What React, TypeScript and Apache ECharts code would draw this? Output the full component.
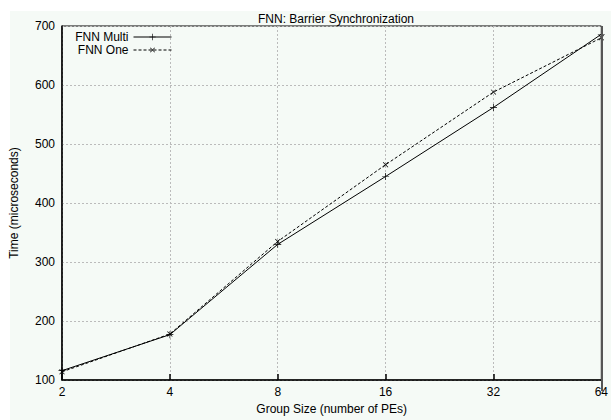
import React, { useEffect, useRef } from "react";
import * as echarts from "echarts";

const categories = ["2", "4", "8", "16", "32", "64"];
const fnnMulti = [116, 177, 330, 445, 562, 686];
const fnnOne = [114, 178, 335, 465, 588, 680];
const yTicks = { min: 100, max: 700, interval: 100 };

const PLUS = "path://M4.5,0H5.5V4.5H10V5.5H5.5V10H4.5V5.5H0V4.5H4.5Z";
const FONT = "Liberation Sans, Arial, sans-serif";

export default function App() {
  const ref = useRef<HTMLDivElement>(null);
  useEffect(() => {
    const chart = echarts.init(ref.current!, null, { renderer: "svg" });
    const legendBase = {
      orient: "vertical",
      align: "right",
      right: 611 - 172,
      itemWidth: 38,
      itemHeight: 8,
      itemGap: 4,
      textStyle: { fontFamily: FONT, fontSize: 12, color: "#000", padding: [0, 0, 0, 0] },
      padding: 0,
    };
    chart.setOption({
      animation: false,
      backgroundColor: "#ffffff",
      graphic: [
        {
          type: "rect",
          z: -10,
          silent: true,
          shape: { x: 10, y: 11, width: 601, height: 409 },
          style: { fill: "#f5faf6" },
        },
        {
          type: "line",
          z: 10,
          silent: true,
          shape: { x1: 602, y1: 26, x2: 602, y2: 391 },
          style: { stroke: "#555", lineWidth: 2 },
        },
      ],
      title: {
        text: "FNN: Barrier Synchronization",
        left: 331,
        textAlign: "center",
        top: 8,
        textStyle: { fontFamily: FONT, fontSize: 12, fontWeight: "normal", color: "#000" },
      },
      legend: [
        {
          ...legendBase,
          top: 31,
          data: [{ name: "FNN Multi", itemStyle: { color: "#000" }, lineStyle: { width: 1, type: "solid" } }],
        },
        {
          ...legendBase,
          top: 44,
          data: [{ name: "FNN One", itemStyle: { color: "#000" }, lineStyle: { width: 1, type: [3, 2] } }],
        },
      ],
      grid: {
        left: 61,
        right: 9,
        top: 26,
        bottom: 29,
        show: true,
        borderColor: "#000",
        borderWidth: 1,
        backgroundColor: "transparent",
      },
      xAxis: {
        type: "category",
        data: categories,
        boundaryGap: false,
        name: "Group Size (number of PEs)",
        nameLocation: "middle",
        nameGap: 20,
        nameTextStyle: { fontFamily: FONT, fontSize: 12, color: "#000" },
        axisLine: { lineStyle: { color: "#000", width: 1.5 } },
        axisTick: { inside: true, length: 6, lineStyle: { color: "#000", width: 1.5 } },
        axisLabel: { fontFamily: FONT, fontSize: 12, color: "#000", margin: 6 },
        splitLine: { show: true, lineStyle: { color: "#bbb", type: [2, 2], width: 1 } },
      },
      yAxis: {
        type: "value",
        min: yTicks.min,
        max: yTicks.max,
        interval: yTicks.interval,
        name: "Time (microseconds)",
        nameLocation: "middle",
        nameGap: 42,
        nameTextStyle: { fontFamily: FONT, fontSize: 12, color: "#000" },
        axisLine: { show: true, lineStyle: { color: "#000", width: 1.5 } },
        axisTick: { show: false },
        axisLabel: { fontFamily: FONT, fontSize: 12, color: "#000", margin: 7 },
        splitLine: { show: true, lineStyle: { color: "#bbb", type: [2, 2], width: 1 } },
      },
      series: [
        {
          name: "FNN Multi",
          type: "line",
          data: fnnMulti,
          symbol: PLUS,
          symbolSize: 7,
          showAllSymbol: true,
          lineStyle: { color: "#000", width: 1, type: "solid" },
          itemStyle: { color: "#000" },
          z: 5,
        },
        {
          name: "FNN One",
          type: "line",
          data: fnnOne,
          symbol: PLUS,
          symbolRotate: 45,
          symbolSize: 7,
          showAllSymbol: true,
          lineStyle: { color: "#000", width: 1, type: [3, 2] },
          itemStyle: { color: "#000" },
          z: 5,
        },
      ],
    });
    return () => chart.dispose();
  }, []);
  return (
    <div
      ref={ref}
      style={{ position: "fixed", left: 0, top: 0, width: 611, height: 420 }}
    />
  );
}
